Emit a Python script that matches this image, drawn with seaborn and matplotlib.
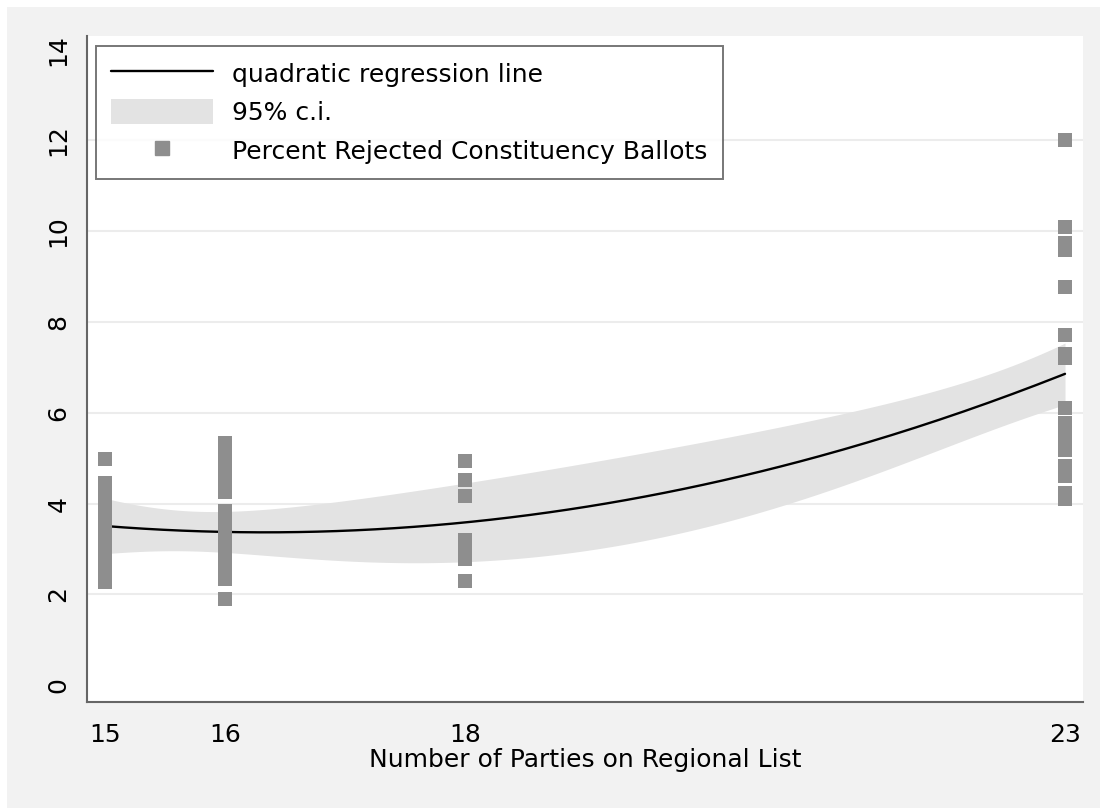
import matplotlib
matplotlib.use("Agg")
import matplotlib.pyplot as plt
from matplotlib.lines import Line2D
from matplotlib.patches import Patch, Rectangle
import numpy as np, pandas as pd
import seaborn as sns

# rejected ballots (%) by number of parties on the regional list
parties_15 = [4.98, 4.45, 4.31, 4.18, 4.04, 3.90, 3.77, 3.63, 3.50, 3.36,
              3.22, 3.09, 2.95, 2.81, 2.68, 2.54, 2.41, 2.27]
parties_16 = [5.33, 5.06, 4.79, 4.52, 4.25, 3.83, 3.71, 3.58, 3.46, 3.33,
              3.21, 3.08, 2.96, 2.83, 2.71, 2.58, 2.46, 2.33, 1.89]
parties_18 = [4.93, 4.52, 4.16, 3.20, 3.06, 2.92, 2.78, 2.29]
parties_23 = [12.0, 10.1, 9.74, 9.58, 8.77, 7.71, 7.29, 7.20, 6.10,
              5.77, 5.60, 5.45, 5.30, 5.18, 4.82, 4.60, 4.23, 4.10]

x_ticks = [15, 16, 18, 23]
y_ticks = [0, 2, 4, 6, 8, 10, 12, 14]

df = pd.DataFrame({
    "parties": [15] * len(parties_15) + [16] * len(parties_16)
               + [18] * len(parties_18) + [23] * len(parties_23),
    "rejected": parties_15 + parties_16 + parties_18 + parties_23,
})

sns.set_style("white")
plt.rcParams["font.family"] = ["DejaVu Sans"]
plt.rcParams["text.color"] = "black"
plt.rcParams["xtick.color"] = "black"
plt.rcParams["ytick.color"] = "black"
plt.rcParams["axes.labelcolor"] = "black"

bg = "#f2f2f2"
pt_color = "#8e8e8e"
band_color = "#e3e3e3"
fs = 18

# quadratic OLS fit with analytic 95% confidence band (like Stata's qfitci)
x = df["parties"].to_numpy(float)
y = df["rejected"].to_numpy(float)
X = np.column_stack([np.ones_like(x), x, x ** 2])
beta, res, *_ = np.linalg.lstsq(X, y, rcond=None)
dof = len(x) - 3
s2 = np.sum((y - X @ beta) ** 2) / dof
cov = s2 * np.linalg.inv(X.T @ X)
grid = np.linspace(x.min(), x.max(), 200)
G = np.column_stack([np.ones_like(grid), grid, grid ** 2])
fit = G @ beta
se = np.sqrt(np.einsum("ij,jk,ik->i", G, cov, G))
tcrit = 1.995
fit_df = pd.DataFrame({"parties": grid, "fit": fit,
                       "lo": fit - tcrit * se, "hi": fit + tcrit * se})

fig = plt.figure(figsize=(11, 8.08), dpi=100, facecolor="white")
fig.patches.append(Rectangle((7 / 1100, 0), 1, 1 - 7 / 808, transform=fig.transFigure,
                             facecolor=bg, edgecolor="none", zorder=-10))
ax = fig.add_axes([87 / 1100, 106 / 808, 996 / 1100, 666 / 808])
ax.set_facecolor("white")

for yy in [2, 4, 6, 8, 10, 12]:
    ax.axhline(yy, color="#ececec", lw=1.5, zorder=0)

ax.fill_between(fit_df["parties"], fit_df["lo"], fit_df["hi"], color=band_color,
                lw=0, zorder=2)
sns.lineplot(data=fit_df, x="parties", y="fit", color="black", lw=1.7, zorder=3, ax=ax)

sns.scatterplot(data=df, x="parties", y="rejected", marker="s", s=105, color=pt_color,
                linewidth=0, zorder=4, ax=ax)

ax.set_xlim(14.85, 23.15)
ax.set_ylim(-0.37, 14.3)
ax.set_xticks(x_ticks)
ax.set_yticks(y_ticks)
ax.tick_params(axis="both", length=7, width=1.3, color="#666666", labelsize=fs, pad=5)
ax.tick_params(axis="x", pad=8)
ax.tick_params(axis="y", labelrotation=90)
for lab in ax.get_yticklabels():
    lab.set_va("center")
ax.set_xlabel("Number of Parties on Regional List", fontsize=fs, labelpad=1)
ax.set_ylabel("")

for side in ["top", "right"]:
    ax.spines[side].set_visible(False)
for side in ["left", "bottom"]:
    ax.spines[side].set_color("#666666")
    ax.spines[side].set_linewidth(1.5)

handles = [
    Line2D([], [], color="black", lw=1.7),
    Patch(facecolor=band_color, edgecolor="none"),
    Line2D([], [], marker="s", ls="none", color=pt_color, markersize=10),
]
labels = ["quadratic regression line", "95% c.i.", "Percent Rejected Constituency Ballots"]
leg = ax.legend(handles, labels, loc="upper left", bbox_to_anchor=(0.009, 0.985),
                fontsize=fs, frameon=True, fancybox=False, edgecolor="#555555",
                handlelength=4.1, handleheight=1.15, labelspacing=0.5,
                borderpad=0.6, handletextpad=0.75, borderaxespad=0)
leg.get_frame().set_linewidth(1.4)

fig.savefig("out.png", dpi=100, facecolor=fig.get_facecolor())
